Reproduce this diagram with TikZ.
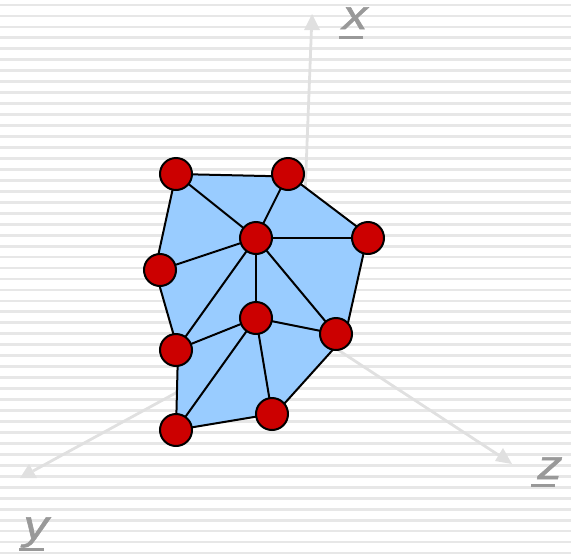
\documentclass[tikz,border=0pt]{standalone}
\usepackage{fontspec}
\setmainfont{Liberation Sans}
\newfontfamily\axisfont{Liberation Sans Italic}[FakeBold=1.2]
\definecolor{stripe}{HTML}{E7E7E7}
\definecolor{axisc}{HTML}{E0E0E0}
\definecolor{labelc}{HTML}{999999}
\definecolor{meshc}{HTML}{99CCFF}
\definecolor{vertc}{HTML}{CC0000}
\tikzset{
  x=1pt,y=-1pt,
  vert/.style={circle,draw=black,fill=vertc,line width=2pt,minimum size=32pt,inner sep=0pt},
  edge/.style={draw=black,line width=2pt},
  axisline/.style={draw=axisc,line width=2.8pt},
  axishead/.style={fill=axisc},
  axislabel/.style={text=labelc,font=\axisfont\fontsize{41}{41}\selectfont,inner sep=0pt,anchor=base},
  ul/.style={draw=labelc,line width=3pt}
}
\begin{document}
\begin{tikzpicture}
\useasboundingbox (0,0) rectangle (571,555);
\foreach \i in {0,...,50} {
  \fill[stripe] (0,{3.6+10.96*\i}) rectangle (571,{6.4+10.96*\i});
}
\coordinate (o) at (300,325);
\coordinate (ax) at (311.5,28);
\coordinate (ay) at (33,471);
\coordinate (az) at (500,456);
\draw[axisline] (o) -- (ax);
\draw[axisline] (o) -- (ay);
\draw[axisline] (o) -- (az);
\fill[axishead] (312,14) -- (304,30) -- (320,30) -- cycle;
\fill[axishead] (29,464) -- (20,478) -- (37,478) -- cycle;
\fill[axishead] (503,448) -- (495,461) -- (512,464) -- cycle;
\node[axislabel] (lx) at (355,29) {\scalebox{1.22}[1]{x}};
\node[axislabel] (ly) at (36,539) {\scalebox{1.22}[1]{y}};
\node[axislabel] (lz) at (550,479) {\scalebox{1.22}[1]{z}};
\coordinate (ux1) at (339,37); \coordinate (ux2) at (363,37);
\coordinate (uy1) at (19,549); \coordinate (uy2) at (44,549);
\coordinate (uz1) at (531,485); \coordinate (uz2) at (555,485);
\draw[ul] (ux1) -- (ux2);
\draw[ul] (uy1) -- (uy2);
\draw[ul] (uz1) -- (uz2);
% vertex centres
\coordinate (a) at (176,174);
\coordinate (b) at (288,174);
\coordinate (c) at (256,238);
\coordinate (d) at (368,238);
\coordinate (e) at (160,270);
\coordinate (f) at (256,318);
\coordinate (g) at (336,334);
\coordinate (h) at (176,350);
\coordinate (i) at (272,414);
\coordinate (j) at (176,430);
% outline corners, hidden under the discs
\coordinate (b1) at (288,176.5);
\coordinate (b2) at (288,174.5);
\coordinate (d1) at (368,235);
\coordinate (d2) at (367,238);
\coordinate (g1) at (345.5,334);
\coordinate (g2) at (347,334);
\coordinate (i1) at (275,414);
\coordinate (e1) at (155,270);
\coordinate (h1) at (178,350);
\fill[meshc] (a) -- (b1) -- (b2) -- (d1) -- (d2) -- (g1) -- (g2) -- (i1) -- (i) -- (j) -- (h1) -- (e1) -- cycle;
\foreach \p/\q in {a/b1,b2/d1,d2/g1,g2/i1,i/j,j/h1,h1/e1,e1/a,a/c,b/c,c/d,c/e,c/h,c/f,c/g,h/f,f/g,f/j,f/i} {
  \draw[edge] (\p) -- (\q);
}
\foreach \p in {a,b,c,d,e,f,g,h,i,j} {
  \node[vert] (n\p) at (\p) {};
}
\end{tikzpicture}
\end{document}
